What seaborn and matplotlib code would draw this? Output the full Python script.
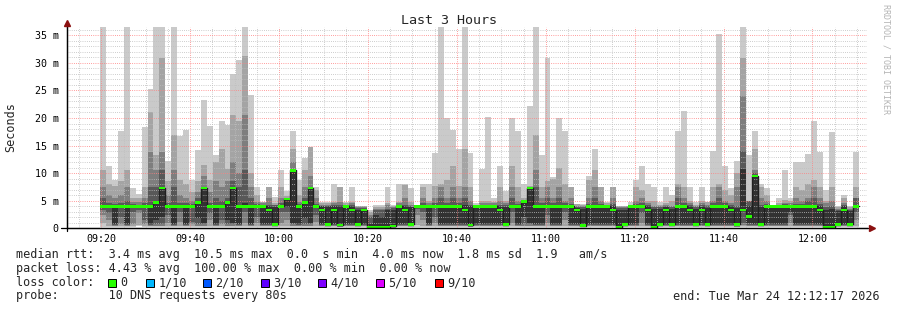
import numpy as np
import pandas as pd
import matplotlib
matplotlib.use("Agg")
import matplotlib.pyplot as plt
import seaborn as sns
from matplotlib.patches import Rectangle
from matplotlib.lines import Line2D

sns.set_style("white")
plt.rcParams['font.family'] = ['DejaVu Sans Mono', 'DejaVu Sans']

# ---------------- data (ms), one value per 80 s step, first step 09:19:44 ----------------
# smoke layers: layer k spans [lo_k, hi_k]  (k=1 outermost / lightest)
hi1 = [40, 11.3, 8.8, 17.7, 40, 7.3, 6.2, 18.3, 25.2, 40,
       40, 12.2, 40, 16.8, 17.9, 8.8, 14.2, 23.3, 18.6, 13.3,
       19.4, 18.8, 27.9, 30.5, 40, 24.2, 7.4, 4.8, 7.4, 5.6,
       10.6, 6.8, 17.7, 8.8, 12.8, 14.7, 7.4, 4.8, 4.8, 8.1,
       7.4, 4.8, 7.4, 4.1, 4.1, 3.3, 4.2, 4.2, 7.4, 4.2,
       8.1, 8.1, 7.3, 4.3, 8.1, 8.1, 13.7, 40, 20.0, 17.9,
       14.4, 40, 13.7, 4.5, 10.8, 20.2, 5.5, 11.3, 6.7, 20.0,
       17.7, 8.1, 22.1, 40, 13.3, 30.8, 9.3, 20.0, 17.7, 7.4,
       4.4, 4.4, 9.5, 14.4, 7.4, 4.8, 7.4, 4.1, 4.1, 4.8,
       8.8, 11.3, 8.1, 7.4, 4.8, 7.4, 6.1, 17.6, 21.3, 7.4,
       4.8, 7.4, 4.8, 14.1, 35.2, 11.3, 7.3, 12.2, 40, 13.3,
       17.7, 8.1, 7.3, 4.3, 5.5, 10.6, 5.5, 12.1, 12.1, 13.5,
       19.4, 13.9, 7.0, 17.4, 4.0, 6.1, 4.0, 13.9]
hi2 = [10.5, 8.0, 7.6, 8.5, 10.6, 5.5, 5.5, 7.5, 21.1, 13.3,
       30.8, 8.5, 17.0, 8.7, 8.0, 6.5, 8.5, 11.4, 8.8, 12.1,
       14.4, 10.7, 20.5, 19.5, 31.2, 10.1, 6.0, 4.8, 7.4, 4.5,
       7.4, 5.8, 14.3, 6.0, 10.5, 14.7, 7.0, 4.5, 4.5, 4.8,
       7.4, 4.5, 4.8, 4.0, 4.0, 3.0, 3.8, 3.8, 4.5, 4.0,
       4.8, 7.8, 4.8, 4.2, 7.4, 5.0, 7.6, 8.1, 8.8, 11.3,
       7.6, 14.4, 7.4, 4.3, 5.0, 5.0, 4.8, 7.4, 5.0, 11.3,
       7.4, 5.5, 7.6, 17.0, 7.4, 8.5, 9.0, 11.0, 8.1, 7.4,
       4.4, 4.3, 8.8, 10.5, 7.4, 4.5, 7.4, 4.0, 4.0, 4.2,
       7.4, 7.0, 5.0, 5.0, 4.2, 4.5, 5.0, 8.1, 7.4, 5.0,
       4.3, 5.0, 4.8, 7.4, 8.1, 7.0, 6.0, 10.0, 30.8, 5.0,
       14.3, 7.5, 6.0, 4.2, 4.5, 5.2, 5.0, 7.4, 7.0, 8.1,
       8.8, 7.4, 5.0, 7.4, 3.9, 5.5, 3.9, 7.4]
hi3 = [7.4, 6.0, 5.5, 6.0, 7.5, 4.8, 4.8, 5.5, 13.8, 10.6,
       13.8, 6.0, 10.5, 6.0, 5.5, 5.0, 6.5, 9.5, 6.5, 8.5,
       7.4, 8.5, 12.0, 10.0, 20.5, 7.4, 4.8, 4.5, 5.5, 4.3,
       5.5, 5.5, 12.0, 4.8, 7.4, 9.5, 5.5, 4.2, 4.2, 4.5,
       4.8, 4.3, 4.5, 3.8, 3.8, 2.5, 3.5, 3.5, 4.2, 3.8,
       4.5, 5.5, 4.3, 4.1, 5.5, 4.5, 5.5, 7.4, 5.5, 7.4,
       5.5, 7.4, 5.0, 4.1, 4.5, 4.5, 4.5, 5.0, 4.5, 7.4,
       5.0, 5.0, 7.5, 10.5, 5.5, 7.4, 5.5, 7.4, 5.0, 5.5,
       4.0, 4.0, 5.5, 7.4, 5.0, 4.3, 5.5, 3.8, 3.8, 4.1,
       5.0, 5.5, 4.5, 4.0, 4.0, 4.2, 4.0, 7.4, 5.5, 4.5,
       4.0, 4.5, 4.3, 5.0, 7.4, 5.0, 4.5, 7.4, 24.0, 4.5,
       10.6, 5.5, 5.0, 4.1, 4.3, 4.5, 4.5, 5.5, 5.0, 5.5,
       7.4, 5.5, 4.5, 5.0, 3.5, 4.5, 3.5, 5.5]
hi4 = [5.5, 4.6, 4.4, 4.5, 5.0, 4.4, 4.3, 4.6, 7.4, 7.4,
       10.6, 4.5, 7.4, 4.6, 4.5, 4.4, 5.5, 7.4, 4.6, 5.5,
       5.0, 5.5, 8.5, 7.4, 10.6, 5.5, 4.4, 4.3, 4.2, 4.2,
       4.6, 5.5, 10.6, 4.4, 5.5, 7.4, 4.4, 4.1, 4.1, 4.2,
       4.3, 4.2, 4.2, 3.6, 3.6, 2.0, 3.3, 3.3, 3.5, 3.6,
       4.3, 4.3, 4.1, 4.1, 4.5, 4.3, 4.6, 5.5, 4.5, 5.5,
       4.5, 5.5, 4.2, 4.1, 4.3, 4.3, 4.3, 4.3, 4.2, 5.5,
       4.4, 4.9, 7.4, 7.4, 4.5, 5.5, 4.5, 5.5, 4.5, 4.4,
       3.8, 3.8, 4.4, 5.5, 4.4, 4.2, 4.4, 3.6, 3.6, 4.1,
       4.4, 4.5, 4.2, 3.8, 3.8, 4.0, 3.8, 5.5, 4.5, 4.2,
       3.8, 4.2, 4.0, 4.5, 5.5, 4.5, 4.2, 4.0, 14.0, 5.0,
       10.0, 4.2, 4.4, 4.2, 4.3, 4.4, 4.3, 4.4, 4.4, 5.0,
       5.5, 4.4, 3.8, 4.0, 3.4, 4.2, 3.4, 5.5]
hi5 = [4.2, 4.1, 4.1, 4.1, 4.2, 4.1, 4.1, 4.1, 4.3, 4.8,
       7.4, 4.1, 4.2, 4.1, 4.1, 4.1, 4.8, 7.4, 4.1, 4.2,
       4.1, 4.8, 7.4, 4.2, 4.5, 4.2, 4.1, 4.1, 4.0, 3.9,
       4.1, 5.4, 10.5, 4.1, 4.8, 7.3, 4.1, 4.0, 4.0, 4.0,
       4.0, 4.1, 4.0, 3.4, 3.4, 0.8, 2.5, 2.0, 3.3, 3.4,
       4.1, 4.0, 3.9, 4.05, 4.1, 4.1, 4.1, 4.2, 4.1, 4.2,
       4.1, 4.2, 4.0, 4.05, 4.1, 4.1, 4.1, 4.0, 3.9, 4.1,
       4.1, 4.85, 7.35, 4.3, 4.1, 4.2, 4.1, 4.2, 4.1, 4.1,
       3.6, 3.5, 4.1, 4.2, 4.1, 4.1, 4.0, 3.3, 3.4, 4.05,
       4.1, 4.1, 4.0, 3.5, 3.5, 3.8, 3.5, 4.2, 4.1, 4.0,
       3.5, 4.0, 3.7, 4.1, 4.2, 4.1, 4.0, 3.6, 10.7, 4.0,
       9.6, 3.8, 4.1, 4.1, 4.1, 4.1, 4.1, 4.1, 4.1, 4.2,
       4.2, 4.0, 3.3, 3.5, 3.2, 4.0, 3.2, 4.1]
lo5 = [3.7, 3.6, 0.8, 3.6, 0.7, 3.7, 3.7, 3.6, 0.7, 1.5,
       2.0, 3.6, 0.7, 3.6, 0.8, 3.7, 1.8, 1.0, 3.6, 0.7,
       3.6, 1.5, 1.0, 0.7, 3.6, 0.7, 3.6, 0.7, 0.7, 0.6,
       3.6, 3.8, 0.9, 0.8, 1.8, 1.0, 3.6, 0.7, 0.6, 0.7,
       0.5, 0.7, 0.7, 0.6, 0.7, 0.1, 0.1, 0.1, 0.1, 0.3,
       0.7, 0.7, 0.6, 3.8, 3.6, 0.7, 3.6, 0.7, 0.8, 0.7,
       0.7, 0.7, 0.5, 0.7, 0.7, 0.8, 0.7, 0.7, 0.6, 3.6,
       0.7, 2.0, 1.0, 0.7, 0.7, 3.6, 0.7, 0.8, 3.6, 0.7,
       0.7, 0.4, 0.7, 0.7, 0.7, 0.7, 0.7, 0.1, 0.6, 0.7,
       0.7, 3.6, 0.7, 0.1, 0.6, 0.7, 0.6, 0.7, 0.7, 0.7,
       0.6, 0.7, 0.6, 0.7, 0.7, 0.7, 0.7, 0.6, 3.2, 1.0,
       0.8, 0.6, 0.7, 0.7, 0.7, 0.7, 3.0, 0.7, 0.7, 0.7,
       0.7, 0.7, 0.1, 0.1, 0.6, 0.7, 0.6, 3.6]
lo4 = [3.4, 2.8, 0.6, 2.0, 0.6, 3.0, 3.4, 1.5, 0.6, 0.7,
       0.7, 2.5, 0.6, 3.0, 0.6, 1.2, 0.7, 0.7, 2.8, 0.6,
       1.5, 0.7, 0.7, 0.6, 3.0, 0.6, 2.0, 0.6, 0.6, 0.5,
       3.0, 3.0, 0.7, 0.6, 0.7, 0.7, 2.5, 0.6, 0.5, 0.6,
       0.4, 0.6, 0.6, 0.5, 0.6, 0.1, 0.1, 0.1, 0.1, 0.2,
       0.6, 0.6, 0.5, 3.5, 3.0, 0.6, 2.0, 0.6, 0.6, 0.6,
       0.6, 0.6, 0.4, 0.6, 0.6, 0.6, 0.6, 0.6, 0.5, 3.0,
       0.6, 0.7, 0.7, 0.6, 0.6, 2.5, 0.6, 0.6, 3.0, 0.6,
       0.6, 0.3, 0.6, 0.6, 0.6, 0.6, 0.6, 0.1, 0.5, 0.6,
       0.6, 2.8, 0.6, 0.1, 0.5, 0.6, 0.5, 0.6, 0.6, 0.6,
       0.5, 0.6, 0.5, 0.6, 0.6, 0.6, 0.6, 0.5, 1.0, 0.6,
       0.6, 0.5, 0.6, 0.6, 0.6, 0.6, 2.5, 0.6, 0.6, 0.6,
       0.6, 0.6, 0.1, 0.1, 0.5, 0.6, 0.5, 3.0]
lo3 = [2.5, 1.5, 0.5, 0.8, 0.5, 0.7, 2.8, 0.8, 0.5, 0.5,
       0.5, 1.0, 0.5, 1.2, 0.5, 0.7, 0.5, 0.5, 1.5, 0.5,
       0.8, 0.5, 0.5, 0.5, 1.0, 0.5, 1.0, 0.5, 0.5, 0.4,
       1.0, 1.5, 0.5, 0.5, 0.5, 0.5, 1.2, 0.5, 0.4, 0.5,
       0.3, 0.5, 0.5, 0.4, 0.5, 0.1, 0.1, 0.1, 0.1, 0.2,
       0.5, 0.5, 0.4, 2.5, 1.5, 0.5, 1.0, 0.5, 0.5, 0.5,
       0.5, 0.5, 0.3, 0.5, 0.5, 0.5, 0.5, 0.5, 0.4, 1.0,
       0.5, 0.5, 0.5, 0.5, 0.5, 1.0, 0.5, 0.5, 1.5, 0.5,
       0.5, 0.3, 0.5, 0.5, 0.5, 0.5, 0.5, 0.1, 0.4, 0.5,
       0.5, 1.0, 0.5, 0.1, 0.4, 0.5, 0.4, 0.5, 0.5, 0.5,
       0.4, 0.5, 0.4, 0.5, 0.5, 0.5, 0.5, 0.3, 0.6, 0.5,
       0.5, 0.4, 0.5, 0.5, 0.5, 0.5, 1.0, 0.5, 0.5, 0.5,
       0.5, 0.5, 0.1, 0.1, 0.4, 0.5, 0.4, 1.5]
lo2 = [1.0, 0.5, 0.4, 0.5, 0.4, 0.5, 0.6, 0.5, 0.4, 0.4,
       0.4, 0.5, 0.4, 0.5, 0.4, 0.5, 0.4, 0.4, 0.5, 0.4,
       0.5, 0.4, 0.4, 0.4, 0.5, 0.4, 0.5, 0.4, 0.4, 0.3,
       0.5, 0.5, 0.4, 0.4, 0.4, 0.4, 0.5, 0.4, 0.3, 0.4,
       0.3, 0.4, 0.4, 0.3, 0.4, 0.1, 0.1, 0.1, 0.1, 0.1,
       0.4, 0.4, 0.3, 0.6, 0.5, 0.4, 0.5, 0.4, 0.4, 0.4,
       0.4, 0.4, 0.3, 0.4, 0.4, 0.4, 0.4, 0.4, 0.3, 0.5,
       0.4, 0.4, 0.4, 0.4, 0.4, 0.5, 0.4, 0.4, 0.5, 0.4,
       0.4, 0.2, 0.4, 0.4, 0.4, 0.4, 0.4, 0.1, 0.3, 0.4,
       0.4, 0.5, 0.4, 0.1, 0.3, 0.4, 0.3, 0.4, 0.4, 0.4,
       0.3, 0.4, 0.3, 0.4, 0.4, 0.4, 0.4, 0.2, 0.5, 0.4,
       0.4, 0.3, 0.4, 0.4, 0.4, 0.4, 0.4, 0.4, 0.4, 0.4,
       0.4, 0.4, 0.1, 0.1, 0.3, 0.4, 0.3, 0.5]
lo1 = [0.3, 0.3, 0.3, 0.3, 0.3, 0.3, 0.4, 0.3, 0.3, 0.3,
       0.3, 0.3, 0.3, 0.3, 0.3, 0.3, 0.3, 0.3, 0.3, 0.3,
       0.3, 0.3, 0.3, 0.3, 0.3, 0.3, 0.3, 0.3, 0.3, 0.2,
       0.3, 0.3, 0.3, 0.3, 0.3, 0.3, 0.3, 0.3, 0.2, 0.3,
       0.2, 0.3, 0.3, 0.2, 0.3, 0.05, 0.05, 0.05, 0.05, 0.1,
       0.3, 0.3, 0.2, 0.3, 0.3, 0.3, 0.3, 0.3, 0.3, 0.3,
       0.3, 0.3, 0.2, 0.3, 0.3, 0.3, 0.3, 0.3, 0.2, 0.3,
       0.3, 0.3, 0.3, 0.3, 0.3, 0.3, 0.3, 0.3, 0.3, 0.3,
       0.3, 0.2, 0.3, 0.3, 0.3, 0.3, 0.3, 0.05, 0.2, 0.3,
       0.3, 0.3, 0.3, 0.05, 0.2, 0.3, 0.2, 0.3, 0.3, 0.3,
       0.2, 0.3, 0.2, 0.3, 0.3, 0.3, 0.3, 0.2, 0.3, 0.3,
       0.3, 0.2, 0.3, 0.3, 0.3, 0.3, 0.3, 0.3, 0.3, 0.3,
       0.3, 0.3, 0.05, 0.05, 0.2, 0.3, 0.2, 0.3]
median = [4.0, 4.0, 4.0, 4.0, 4.0, 4.0, 4.0, 4.0, 4.0, 4.7,
          7.3, 4.0, 4.0, 4.0, 4.0, 4.0, 4.7, 7.3, 4.0, 4.0,
          4.0, 4.7, 7.3, 4.0, 4.0, 4.0, 4.0, 4.0, 3.3, 0.7,
          4.0, 5.3, 10.5, 4.0, 4.7, 7.3, 4.0, 3.3, 0.7, 3.3,
          0.6, 4.0, 3.3, 0.7, 3.3, 0.1, 0.1, 0.1, 0.1, 0.4,
          4.0, 3.3, 0.7, 4.0, 4.0, 4.0, 4.0, 4.0, 4.0, 4.0,
          4.0, 3.3, 0.6, 4.0, 4.0, 4.0, 4.0, 3.3, 0.7, 4.0,
          4.0, 4.8, 7.3, 4.0, 4.0, 4.0, 4.0, 4.0, 4.0, 4.0,
          3.3, 0.5, 4.0, 4.0, 4.0, 4.0, 3.3, 0.1, 0.7, 4.0,
          4.0, 4.0, 3.3, 0.1, 0.7, 3.3, 0.7, 4.0, 4.0, 3.3,
          0.7, 3.3, 0.7, 4.0, 4.0, 4.0, 3.3, 0.7, 3.3, 2.1,
          9.5, 0.7, 4.0, 4.0, 4.0, 4.0, 4.0, 4.0, 4.0, 4.0,
          4.0, 3.3, 0.1, 0.1, 0.7, 3.3, 0.7, 4.0]

y_ticks = [0, 5, 10, 15, 20, 25, 30, 35]
y_tick_labels = ["0", "5 m", "10 m", "15 m", "20 m", "25 m", "30 m", "35 m"]
x_tick_labels = ["09:20", "09:40", "10:00", "10:20", "10:40", "11:00", "11:20", "11:40", "12:00"]
loss_labels = ["0", "1/10", "2/10", "3/10", "4/10", "5/10", "9/10"]
loss_colors = ["#26ff00", "#00b8ff", "#0059ff", "#5e00ff", "#7e00ff", "#dd00ff", "#ff0000"]
stats_lines = [
    "median rtt:  3.4 ms avg  10.5 ms max  0.0  s min  4.0 ms now  1.8 ms sd  1.9   am/s",
    "packet loss: 4.43 % avg  100.00 % max  0.00 % min  0.00 % now",
    "loss color:",
    "probe:       10 DNS requests every 80s",
]
end_text = "end: Tue Mar 24 12:12:17 2026"

# ---------------- geometry ----------------
W, H = 897, 310
START = 9 * 60 + 12 + 17 / 60.0           # 09:12:17 in minutes of day
FIRST = 9 * 60 + 19 + 44 / 60.0 - START    # first step start
STEP = 80 / 60.0
n = len(median)
edges = FIRST + STEP * np.arange(n + 1)

def ext(a):
    a = list(a)
    return np.array(a + [a[-1]])

fig = plt.figure(figsize=(W / 100, H / 100), dpi=100)
ax = fig.add_axes([67 / W, (H - 228.3) / H, 800 / W, 201.3 / H])

layer_colors = ["#cacaca", "#a4a4a4", "#7e7e7e", "#585858", "#323232"]
his = [hi1, hi2, hi3, hi4, hi5]
los = [lo1, lo2, lo3, lo4, lo5]
for lo, hi, c in zip(los, his, layer_colors):
    ax.fill_between(edges, ext(lo), ext(hi), step="post", color=c, lw=0, zorder=1)

# median: dark step line + green loss-coloured bars
df = pd.DataFrame({"t": edges, "rtt": ext(median)})
sns.lineplot(data=df, x="t", y="rtt", ax=ax, color="#202020", lw=1.0,
             drawstyle="steps-post", zorder=3, legend=False)
med = ext(median)
ax.fill_between(edges, med - 0.25, med + 0.25, step="post", color="#26ff00", lw=0, zorder=4)

ax.set_xlim(0, 180)
ax.set_ylim(0, 36.5)
major_x = [(9 * 60 + 20 + 20 * k) - START for k in range(len(x_tick_labels))]
minor_x = [(9 * 60 + 15 + 5 * k) - START for k in range(36)]
ax.set_xticks(major_x)
ax.set_xticklabels(x_tick_labels)
ax.set_xticks(minor_x, minor=True)
ax.set_yticks(y_ticks)
ax.set_yticklabels(y_tick_labels)
ax.set_yticks(np.arange(0, 37, 1), minor=True)
ax.set_xlabel("")
ax.set_ylabel("")

ax.set_axisbelow(False)
ax.grid(which="minor", color=(0.75, 0.75, 0.75, 0.6), lw=0.72, linestyle=(0, (0.72, 1.44)), zorder=5)
ax.grid(which="major", color=(1.0, 0.5, 0.5, 0.6), lw=0.72, linestyle=(0, (0.72, 1.44)), zorder=5)

for s in ["top", "right"]:
    ax.spines[s].set_visible(False)
for s in ["left", "bottom"]:
    ax.spines[s].set_color("black")
    ax.spines[s].set_linewidth(0.9)
    ax.spines[s].set_zorder(6)
ax.tick_params(axis="both", which="both", length=2, width=0.6, color="black",
               labelsize=7.2, pad=2, colors="black")
ax.tick_params(axis="y", pad=4)
for lab in ax.get_xticklabels() + ax.get_yticklabels():
    lab.set_family("DejaVu Sans Mono")

def fx(px):
    return px / W

def fy(py):
    return 1 - py / H

# axis extensions and arrows
fig.add_artist(Line2D([fx(61), fx(868)], [fy(228.3), fy(228.3)], color="black", lw=0.9))
fig.add_artist(Line2D([fx(67), fx(67)], [fy(231), fy(24)], color="black", lw=0.9))
fig.add_artist(Line2D([fx(872)], [fy(228.3)], marker=">", markersize=4.5, color="#8b1010", lw=0))
fig.add_artist(Line2D([fx(67)], [fy(22.5)], marker="^", markersize=4.5, color="#8b1010", lw=0))

# texts
fig.text(fx(449), fy(20), "Last 3 Hours", ha="center", va="center", fontsize=9.6,
         family="DejaVu Sans Mono")
fig.text(fx(11), fy(127), "Seconds", ha="center", va="center", rotation=90, fontsize=8.5,
         family="DejaVu Sans Mono")
fig.text(fx(886), fy(59), "RRDTOOL / TOBI OETIKER", ha="center", va="center", rotation=270,
         fontsize=6.0, color="#b4b4b4", family="DejaVu Sans Mono")

row_y = [254.5, 268.5, 282.5, 296.0]
for txt, yy in zip(stats_lines, row_y):
    fig.text(fx(16), fy(yy), txt, ha="left", va="center", fontsize=8.5, family="DejaVu Sans Mono")
fig.text(fx(880), fy(row_y[3]), end_text, ha="right", va="center", fontsize=8.5,
         family="DejaVu Sans Mono")

sq_x = [108, 146, 203, 261, 318, 376, 435]
for sx, lab, col in zip(sq_x, loss_labels, loss_colors):
    fig.add_artist(Rectangle((fx(sx), fy(286.5)), 8 / W, 8 / H, transform=fig.transFigure,
                             facecolor=col, edgecolor="black", lw=0.7))
    fig.text(fx(sx + 12.5), fy(row_y[2]), lab, ha="left", va="center", fontsize=8.5,
             family="DejaVu Sans Mono")

fig.savefig("out.png", dpi=100)
